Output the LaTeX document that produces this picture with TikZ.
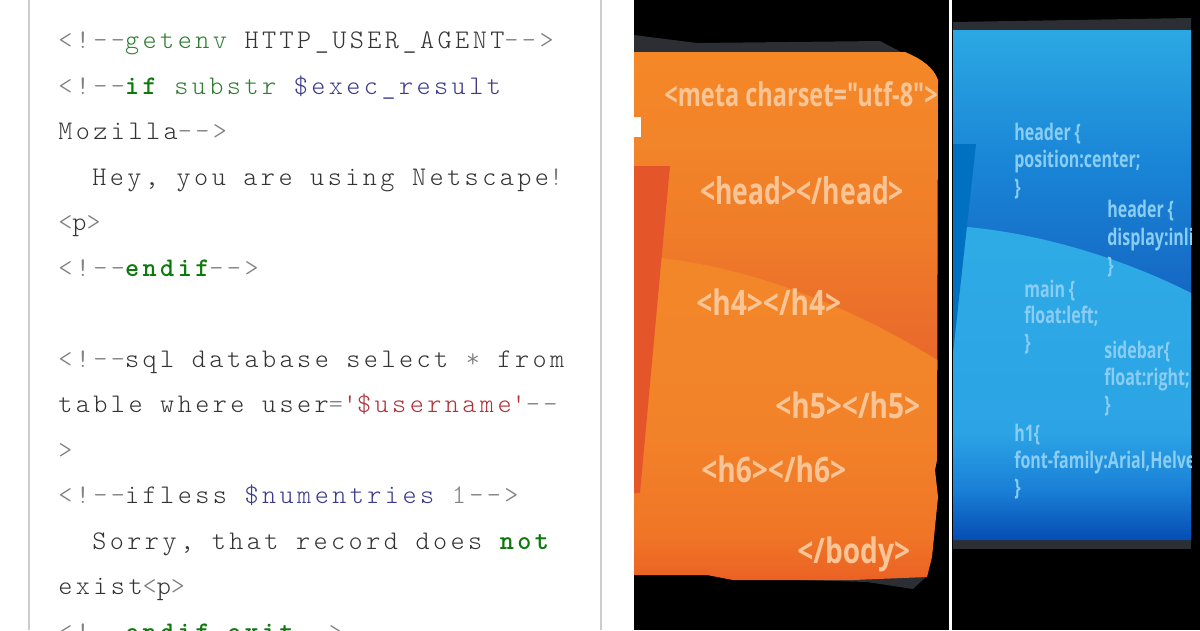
\documentclass[tikz,border=0pt]{standalone}
\usepackage{fontspec}
\newfontfamily\codefont[LetterSpace=12.8]{Latin Modern Mono Light}
\newfontfamily\slidefont[FakeStretch=0.70]{Open Sans}
\newfontfamily\tagfont[FakeStretch=0.80]{Open Sans}
\newfontfamily\metafont[FakeStretch=0.72]{Open Sans}
\definecolor{codegray}{HTML}{808080}
\definecolor{codedark}{HTML}{333333}
\definecolor{codegreen}{HTML}{2E7D32}
\definecolor{codebold}{HTML}{0B7A0B}
\definecolor{codeblue}{HTML}{3B3B8C}
\definecolor{codered}{HTML}{B03038}
\definecolor{panelgray}{HTML}{2B2E33}
\definecolor{tagorange}{HTML}{F9C596}
\definecolor{ruleblue}{HTML}{8ACDF3}
\definecolor{barred}{HTML}{E5552A}
\definecolor{barblue}{HTML}{0070C0}
\newcommand{\pun}[1]{\textcolor{codegray}{#1}}
\newcommand{\kw}[1]{\textcolor{codebold}{\bfseries #1}}
\pgfdeclareverticalshading{orangetop}{100bp}{rgb(0bp)=(0.91,0.40,0.17); rgb(25bp)=(0.91,0.40,0.17); rgb(47bp)=(0.94,0.49,0.16); rgb(62bp)=(0.95,0.52,0.16); rgb(75bp)=(0.96,0.53,0.15); rgb(100bp)=(0.96,0.53,0.15)}
\pgfdeclareverticalshading{orangelow}{100bp}{rgb(0bp)=(0.92,0.38,0.14); rgb(25bp)=(0.92,0.38,0.14); rgb(32bp)=(0.94,0.46,0.15); rgb(48bp)=(0.95,0.51,0.16); rgb(75bp)=(0.95,0.53,0.16); rgb(100bp)=(0.95,0.53,0.16)}
\pgfdeclareverticalshading{bluetop}{100bp}{rgb(0bp)=(0.08,0.40,0.76); rgb(25bp)=(0.08,0.40,0.76); rgb(50bp)=(0.10,0.52,0.84); rgb(75bp)=(0.17,0.66,0.89); rgb(100bp)=(0.17,0.66,0.89)}
\pgfdeclareverticalshading{bluelow}{100bp}{rgb(0bp)=(0.02,0.30,0.70); rgb(25bp)=(0.02,0.30,0.70); rgb(33bp)=(0.10,0.50,0.84); rgb(42bp)=(0.17,0.64,0.90); rgb(75bp)=(0.18,0.67,0.90); rgb(100bp)=(0.18,0.67,0.90)}
\begin{document}
\begin{tikzpicture}[x=0.02cm, y=-0.02cm,
    codeline/.style={anchor=base west, inner sep=0, text=codedark, font=\fontsize{15.3}{18}\codefont},
    orangetag/.style={anchor=base west, inner sep=0, text=tagorange, font=\fontsize{20}{24}\tagfont\bfseries},
    bluerule/.style={anchor=base west, inner sep=0, text=ruleblue, font=\fontsize{13}{16}\slidefont\bfseries}]
    \useasboundingbox (0,0) rectangle (1200,630);
    \clip (0,0) rectangle (1200,630);

    % Page behind the code
    \fill[white] (0,0) rectangle (1200,630);
    \draw[black!20, line width=1.13pt] (29,0) -- (29,630);
    \draw[black!20, line width=1.13pt] (601,0) -- (601,630);

    % Code lines
    \node[codeline] (getenv) at (58,48) {\pun{<!-{}-}\textcolor{codegreen}{getenv} HTTP\_USER\_AGENT\pun{-{}->}};
    \node[codeline] (ifsub) at (58,94) {\pun{<!-{}-}\kw{if} \textcolor{codegreen}{substr} \textcolor{codeblue}{\$exec\_result}};
    \node[codeline] (mozilla) at (58,139) {Mozilla\pun{-{}->}};
    \node[codeline] (hey) at (92,185) {Hey, you are using Netscape\pun{!}};
    \node[codeline] (para) at (58,230) {\pun{<}p\pun{>}};
    \node[codeline] (endif) at (58,276) {\pun{<!-{}-}\kw{endif}\pun{-{}->}};
    \node[codeline] (sql) at (58,367) {\pun{<!-{}-}sql database select \pun{*} from};
    \node[codeline] (tbl) at (58,412) {table where user\pun{=}\textcolor{codered}{\textquotesingle\$username\textquotesingle}\pun{-{}-}};
    \node[codeline] (close) at (58,458) {\pun{>}};
    \node[codeline] (ifless) at (58,503) {\pun{<!-{}-}ifless \textcolor{codeblue}{\$numentries} \pun{1-{}->}};
    \node[codeline] (sorry) at (92,549) {Sorry, that record does \kw{not}};
    \node[codeline] (exist) at (58,594) {exist\pun{<}p\pun{>}};
    \node[codeline] (endexit) at (58,640) {\pun{<!-{}-}\kw{endif exit}\pun{-{}->}};

    % Black panels
    \fill[black] (634,0) rectangle (949,630);
    \fill[black] (952,0) rectangle (1200,630);

    % Orange slide
    \fill[panelgray] (634,35) -- (697,43) -- (880,41) -- (903,53) -- (634,53) -- cycle;
    \fill[panelgray] (733,578) -- (867,582) -- (913,589) -- (927,576) -- cycle;
    \begin{scope}
        \clip (634,52) -- (905,52) .. controls (922,59) and (934,68) .. (938,80) -- (937,460) -- (935,470)
            -- (938,497) -- (932,557) -- (927,577) -- (853,580) -- (733,580) -- (707,575) -- (634,575) -- cycle;
        \shade[shading=orangetop] (634,52) rectangle (950,370);
        \shade[shading=orangelow] (662,258) .. controls (760,270) and (860,310) .. (950,368) -- (950,581) -- (634,581) -- (634,258) -- cycle;
        \fill[white] (634,117) rectangle (641,137);
        \fill[barred] (634,166) -- (670,166) -- (640,493) -- (634,493) -- cycle;
    \end{scope}
    \node[orangetag, font=\fontsize{18.6}{22}\metafont\bfseries] (meta) at (664,106) {<meta charset="utf-8">};
    \node[orangetag, font=\fontsize{21}{24}\metafont\bfseries] (head) at (700,204) {<head></head>};
    \node[orangetag] (hfour) at (696,315) {<h4></h4>};
    \node[orangetag] (hfive) at (775,418) {<h5></h5>};
    \node[orangetag] (hsix) at (701,482) {<h6></h6>};
    \node[orangetag] (body) at (797,563) {</body>};

    % Blue slide
    \fill[panelgray] (953,22) -- (1191,18) -- (1191,31) -- (953,31) -- cycle;
    \fill[panelgray] (953,540) rectangle (1191,549);
    \begin{scope}
        \clip (953,30) rectangle (1191,540);
        \shade[shading=bluetop] (953,30) rectangle (1191,300);
        \shade[shading=bluelow] (968,227) .. controls (1050,235) and (1130,262) .. (1191,293) -- (1191,540) -- (953,540) -- (953,227) -- cycle;
        \fill[barblue] (953,144) -- (976,144) -- (953,353) -- cycle;
        \node[bluerule] (headera) at (1014,140) {header\,\{};
        \node[bluerule] (position) at (1014,167) {position:center;};
        \node[bluerule] (closea) at (1014,195) {\}};
        \node[bluerule] (headerb) at (1107,217) {header\,\{};
        \node[bluerule] (display) at (1107,245) {display:inline;};
        \node[bluerule] (closeb) at (1107,273) {\}};
        \node[bluerule] (mainrule) at (1024,297) {main\,\{};
        \node[bluerule] (floatl) at (1024,323) {float:left;};
        \node[bluerule] (closec) at (1024,350) {\}};
        \node[bluerule] (sidebar) at (1104,358) {sidebar\{};
        \node[bluerule] (floatr) at (1104,385) {float:right;};
        \node[bluerule] (closed) at (1104,412) {\}};
        \node[bluerule] (hone) at (1014,441) {h1\{};
        \node[bluerule] (family) at (1014,468) {font-family:Arial,Helvetica;};
        \node[bluerule] (closee) at (1014,495) {\}};
    \end{scope}
\end{tikzpicture}
\end{document}
